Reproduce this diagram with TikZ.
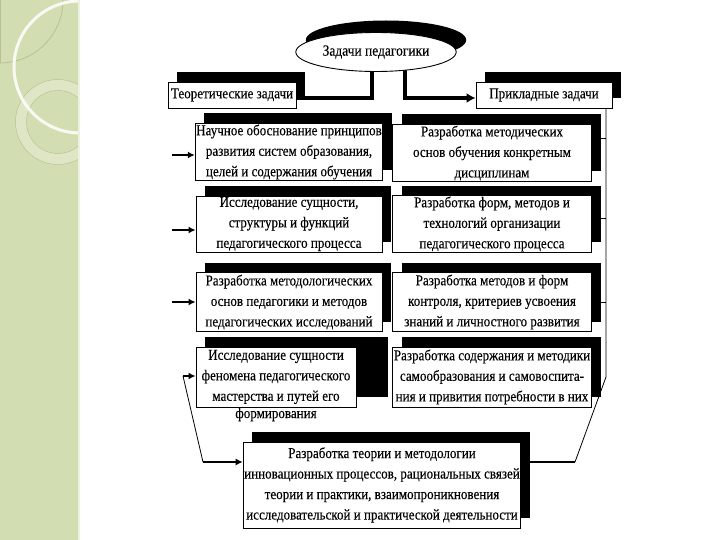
\documentclass[tikz,border=0pt]{standalone}
\usepackage{fontspec}
\setmainfont{Liberation Serif}
\newfontfamily\boxfont{Liberation Serif}[FakeStretch=0.87, FakeBold=0.2]
\usepackage{tikz}
\usetikzlibrary{arrows.meta, shapes.geometric, shadows, positioning, backgrounds}

\definecolor{stripgreen}{RGB}{211,221,178}
\definecolor{ringgreen}{RGB}{226,233,204}
\definecolor{linegreen}{RGB}{182,194,146}

\begin{document}
\begin{tikzpicture}[x=1pt, y=-1pt,
    taskbox/.style={draw, rectangle, fill=white, line width=0.9pt, inner sep=1pt, align=center,
        font=\boxfont\fontsize{15}{20.5}\selectfont,
        drop shadow={shadow xshift=9pt, shadow yshift=10pt, fill=black, opacity=1}},
    bar/.style={line width=4pt, line join=miter},
    stub/.style={line width=1.6pt, -{Latex[length=7pt, width=7pt]}},
    thinline/.style={line width=0.8pt}]

    \useasboundingbox (0,0) rectangle (720,540);

    % green strip on the left
    \fill[stripgreen] (0,0) rectangle (79,540);
    \begin{scope}
        \clip (0,0) rectangle (79,540);
        \draw[linegreen, line width=0.8pt] (0,0) circle[radius=63];
        \draw[linegreen, line width=0.6pt] (0.5,0) -- (0.5,63);
        \draw[ringgreen, line width=11pt, opacity=0.8] (58,122) circle[radius=37];
        \draw[linegreen, line width=0.5pt] (58,122) circle[radius=31.5] (58,122) circle[radius=42.5];
        \draw[white, line width=3pt, opacity=0.85] (80,67) circle[radius=66];
    \end{scope}
    \draw[white!60!stripgreen, line width=1.5pt] (79,0) -- (79,540);

    \node (ZP) [draw, ellipse, fill=white, line width=0.9pt, minimum width=150pt, minimum height=39pt,
        font=\boxfont\fontsize{15.5}{17}\selectfont,
        drop shadow={shadow xshift=10pt, shadow yshift=12pt, fill=black, opacity=1}] at (376,52) {Задачи педагогики};

    \node (TZ) [taskbox, minimum width=128pt, minimum height=26pt] at (232,95) {Теоретические задачи};
    \node (PZ) [taskbox, minimum width=136pt, minimum height=26pt] at (544,95) {Прикладные задачи};

    \node (TZ1) [taskbox, minimum width=186pt, minimum height=57pt] at (289,152) {Научное обоснование принципов\\ развития систем образования,\\ целей и содержания обучения};
    \node (TZ2) [taskbox, minimum width=186pt, minimum height=54pt] at (289,224) {Исследование сущности,\\ структуры и функций\\ педагогического процесса};
    \node (TZ3) [taskbox, minimum width=186pt, minimum height=59pt] at (289,302) {Разработка методологических\\ основ педагогики и методов\\ педагогических исследований};
    \fill (206,337) rectangle (388,397);
    \node (TZ4) [taskbox, minimum width=160pt, minimum height=60pt] at (276,377) {Исследование сущности\\ феномена педагогического\\ мастерства и путей его};
    \node (TZ4b) [below=0pt of TZ4, inner sep=0pt, font=\boxfont\fontsize{15}{16}\selectfont] {формирования};

    \node (PZ1) [taskbox, minimum width=199pt, minimum height=57pt] at (492,153) {Разработка методических\\ основ обучения конкретным\\ дисциплинам};
    \node (PZ2) [taskbox, minimum width=199pt, minimum height=54pt] at (492,224) {Разработка форм, методов и\\ технологий организации\\ педагогического процесса};
    \node (PZ3) [taskbox, minimum width=199pt, minimum height=59pt] at (492,302) {Разработка методов и форм\\ контроля, критериев усвоения\\ знаний и личностного развития};
    \node (PZ4) [taskbox, minimum width=199pt, minimum height=60pt] at (492,377) {Разработка содержания и методики\\ самообразования и самовоспита-\\ния и привития потребности в них};

    \node (RT) [taskbox, minimum width=271pt, minimum height=86pt] at (382,485) {Разработка теории и методологии\\ инновационных процессов, рациональных связей\\ теории и практики, взаимопроникновения\\ исследовательской и практической деятельности};

    \begin{scope}[on background layer]
        \coordinate (c1) at (372,98);
        \coordinate (c2) at (405,98);
        \draw[bar] (c1 |- ZP.center) -- (c1) -- (c1 -| TZ.east);
        \draw[bar, -{Latex[length=9pt, width=10pt]}] (c2 |- ZP.center) -- (c2) -- (c2 -| PZ.west);

        \coordinate (s1) at (172,155);
        \coordinate (s2) at (172,230);
        \coordinate (s3) at (172,302);
        \coordinate (s4) at (183,376);
        \coordinate (b1) at (203,462);
        \draw[stub] (s1) -- (s1 -| TZ1.west);
        \draw[stub] (s2) -- (s2 -| TZ2.west);
        \draw[stub] (s3) -- (s3 -| TZ3.west);
        \draw[stub] (s4) -- (s4 -| TZ4.west);
        \draw[thinline] (s4) -- (b1);
        \draw[stub] (b1) -- (b1 -| RT.west);

        \coordinate (r1) at (606,377);
        \coordinate (r2) at (575,462);
        \coordinate (t1) at (606,138);
        \coordinate (t2) at (606,218);
        \coordinate (t3) at (606,302);
        \draw[thinline] (r1 |- PZ.south) -- (r1) -- (r2);
        \draw[line width=1.4pt] (r2) -- (r2 -| RT.east);
        \draw[thinline] (t1) -- (t1 -| PZ1.east);
        \draw[thinline] (t2) -- (t2 -| PZ2.east);
        \draw[thinline] (t3) -- (t3 -| PZ3.east);
    \end{scope}

\end{tikzpicture}
\end{document}
